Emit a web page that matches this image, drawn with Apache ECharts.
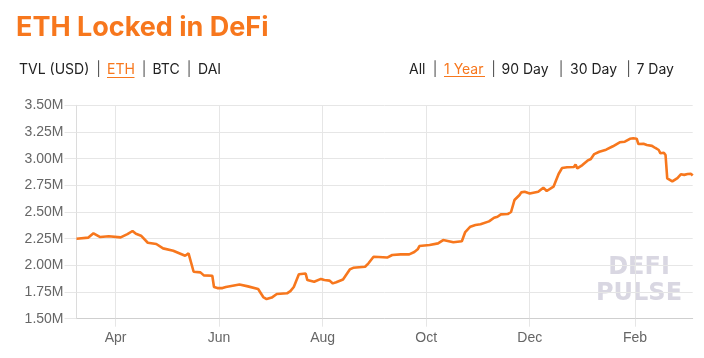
<!DOCTYPE html>
<html>
<head>
<meta charset="utf-8">
<script src="https://cdn.jsdelivr.net/npm/echarts@6/dist/echarts.min.js"></script>
<style>
html,body{margin:0;padding:0;background:#fff;}
#chart{width:704px;height:358px;}
</style>
</head>
<body>
<div id="chart"></div>
<script>
// ---- data (ETH locked, millions) ----
const startDate = '2019-03-09';
const endDate = '2020-03-06';
const tickDates = ['2019-04-01','2019-06-01','2019-08-01','2019-10-01','2019-12-01','2020-02-01'];
const tickLabels = ['Apr','Jun','Aug','Oct','Dec','Feb'];
const yTicks = [1.5, 1.75, 2.0, 2.25, 2.5, 2.75, 3.0, 3.25, 3.5];

const dates = ['2019-03-09','2019-03-16','2019-03-19','2019-03-23','2019-03-28',
'2019-04-04','2019-04-08','2019-04-11','2019-04-13','2019-04-16','2019-04-20','2019-04-25','2019-04-29',
'2019-05-05','2019-05-12','2019-05-14','2019-05-15','2019-05-17','2019-05-21','2019-05-23','2019-05-28','2019-05-29','2019-05-31',
'2019-06-03','2019-06-05','2019-06-13','2019-06-18','2019-06-24','2019-06-27','2019-06-29',
'2019-07-02','2019-07-05','2019-07-11','2019-07-13','2019-07-15','2019-07-18','2019-07-22','2019-07-23','2019-07-24','2019-07-27','2019-07-31',
'2019-08-02','2019-08-05','2019-08-07','2019-08-09','2019-08-13','2019-08-17','2019-08-19','2019-08-26','2019-08-28','2019-08-31',
'2019-09-03','2019-09-08','2019-09-11','2019-09-16','2019-09-21','2019-09-24','2019-09-26','2019-09-27',
'2019-10-03','2019-10-08','2019-10-11','2019-10-17','2019-10-22','2019-10-24','2019-10-27','2019-10-30',
'2019-11-02','2019-11-07','2019-11-10','2019-11-12','2019-11-14','2019-11-18','2019-11-20','2019-11-22','2019-11-25','2019-11-26','2019-11-28',
'2019-12-01','2019-12-06','2019-12-09','2019-12-11','2019-12-15','2019-12-18','2019-12-20','2019-12-23','2019-12-24','2019-12-27','2019-12-28','2019-12-29',
'2020-01-01','2020-01-04','2020-01-06','2020-01-08','2020-01-11','2020-01-15','2020-01-19','2020-01-23','2020-01-26','2020-01-29','2020-01-31',
'2020-02-02','2020-02-03','2020-02-06','2020-02-08','2020-02-11','2020-02-13','2020-02-15','2020-02-16','2020-02-18','2020-02-19','2020-02-20','2020-02-21','2020-02-23','2020-02-26','2020-02-28',
'2020-03-01','2020-03-03','2020-03-05','2020-03-06'];

const ethLocked = [2.25,2.26,2.30,2.265,2.272,
2.262,2.293,2.322,2.296,2.278,2.212,2.20,2.159,
2.137,2.09,2.112,2.095,1.94,1.934,1.906,1.902,1.797,1.787,
1.787,1.797,1.82,1.803,1.778,1.703,1.684,
1.698,1.731,1.738,1.759,1.797,1.916,1.923,1.862,1.848,1.846,1.873,
1.862,1.857,1.831,1.841,1.867,1.962,1.977,1.987,2.019,2.08,
2.078,2.073,2.097,2.103,2.103,2.125,2.15,2.181,
2.19,2.206,2.237,2.217,2.226,2.312,2.362,2.378,
2.385,2.412,2.446,2.456,2.478,2.481,2.50,2.612,2.659,2.684,2.69,
2.673,2.69,2.728,2.697,2.737,2.856,2.912,2.919,2.903,2.922,2.945,2.909,
2.94,2.981,2.997,3.043,3.065,3.084,3.116,3.153,3.159,3.186,3.191,
3.187,3.137,3.14,3.128,3.12,3.10,3.081,3.05,3.056,3.034,2.816,2.80,2.787,2.818,2.853,
2.848,2.856,2.858,2.842];

const leftMenu = ['TVL (USD)', 'ETH', 'BTC', 'DAI'];
const rightMenu = ['All', '1 Year', '90 Day', '30 Day', '7 Day'];

// ---- build axis categories (one per day) ----
function dayList(a, b) {
  const out = [];
  const d = new Date(a + 'T00:00:00Z');
  const e = new Date(b + 'T00:00:00Z');
  while (d <= e) {
    out.push(d.toISOString().slice(0, 10));
    d.setUTCDate(d.getUTCDate() + 1);
  }
  return out;
}
const categories = dayList(startDate, endDate);
const isTick = (i, v) => tickDates.indexOf(v !== undefined ? v : categories[i]) >= 0;

const orange = '#f7771d';
const gridColor = '#e6e6e6';
const menuFont = 'Inter, "Noto Sans", sans-serif';

const chart = echarts.init(document.getElementById('chart'), null, {renderer: 'canvas'});

const leftX = [19, 107, 152.5, 198];
const leftSep = [98.5, 144, 189];
const rightX = [409, 444, 501.5, 570, 636.5];
const rightSep = [435, 493.5, 561, 628.5];
const menuY = 70;

const graphics = [
  {type: 'text', left: 16, top: 14, style: {text: 'ETH Locked in DeFi', fill: orange, font: 'bold 27px ' + menuFont}}
];
leftMenu.forEach((t, i) => {
  graphics.push({type: 'text', x: leftX[i], y: menuY, style: {text: t, fill: i === 1 ? orange : '#222', font: '14px ' + menuFont, textVerticalAlign: 'middle'}});
});
leftSep.forEach(x => graphics.push({type: 'text', x: x, y: menuY, style: {text: '|', fill: '#555', font: '14px ' + menuFont, textAlign: 'center', textVerticalAlign: 'middle'}}));
rightMenu.forEach((t, i) => {
  graphics.push({type: 'text', x: rightX[i], y: menuY, style: {text: t, fill: i === 1 ? orange : '#222', font: '14px ' + menuFont, textVerticalAlign: 'middle'}});
});
rightSep.forEach(x => graphics.push({type: 'text', x: x, y: menuY, style: {text: '|', fill: '#555', font: '14px ' + menuFont, textAlign: 'center', textVerticalAlign: 'middle'}}));
graphics.push({type: 'line', shape: {x1: 107, y1: 77.5, x2: 134.5, y2: 77.5}, style: {stroke: orange, lineWidth: 1}});
graphics.push({type: 'line', shape: {x1: 444, y1: 76.5, x2: 485, y2: 76.5}, style: {stroke: orange, lineWidth: 1}});
graphics.push({type: 'text', x: 639, y: 268, z: 0, style: {text: 'DEFI', fill: '#d9d7e2', font: 'bold 24px "DejaVu Sans", sans-serif', textAlign: 'center', textVerticalAlign: 'middle', textShadowColor: '#eeeef2', textShadowOffsetX: 2, textShadowOffsetY: 2, textShadowBlur: 0}});
graphics.push({type: 'text', x: 639, y: 294, z: 0, style: {text: 'PULSE', fill: '#d9d7e2', font: 'bold 24px "DejaVu Sans", sans-serif', textAlign: 'center', textVerticalAlign: 'middle', textShadowColor: '#eeeef2', textShadowOffsetX: 2, textShadowOffsetY: 2, textShadowBlur: 0}});

chart.setOption({
  animation: false,
  grid: {left: 76.5, right: 11.3, top: 105.3, bottom: 39.3, containLabel: false},
  xAxis: {
    type: 'category',
    data: categories,
    boundaryGap: false,
    axisLine: {show: true, lineStyle: {color: '#cfcfcf', width: 1}},
    axisTick: {show: true, length: 8, interval: isTick, lineStyle: {color: gridColor}},
    axisLabel: {
      interval: isTick,
      formatter: v => tickLabels[tickDates.indexOf(v)] || '',
      color: '#666', fontSize: 14, fontFamily: '"Liberation Sans", Arial, sans-serif', margin: 12
    },
    splitLine: {show: true, interval: isTick, lineStyle: {color: gridColor, width: 1}}
  },
  yAxis: {
    type: 'value',
    min: yTicks[0], max: yTicks[yTicks.length - 1], interval: 0.25,
    axisLine: {show: true, lineStyle: {color: '#dcdcdc'}},
    axisTick: {show: true, length: 12, lineStyle: {color: gridColor}},
    axisLabel: {formatter: v => v.toFixed(2) + 'M', color: '#666', fontSize: 14, fontFamily: '"Liberation Sans", Arial, sans-serif', margin: 13},
    splitLine: {show: true, lineStyle: {color: gridColor, width: 1}}
  },
  series: [{
    type: 'line',
    data: dates.map((d, i) => [d, ethLocked[i]]),
    showSymbol: false,
    lineStyle: {color: orange, width: 2.6},
    itemStyle: {color: orange},
    z: 3
  }],
  graphic: graphics
});
</script>
</body>
</html>
